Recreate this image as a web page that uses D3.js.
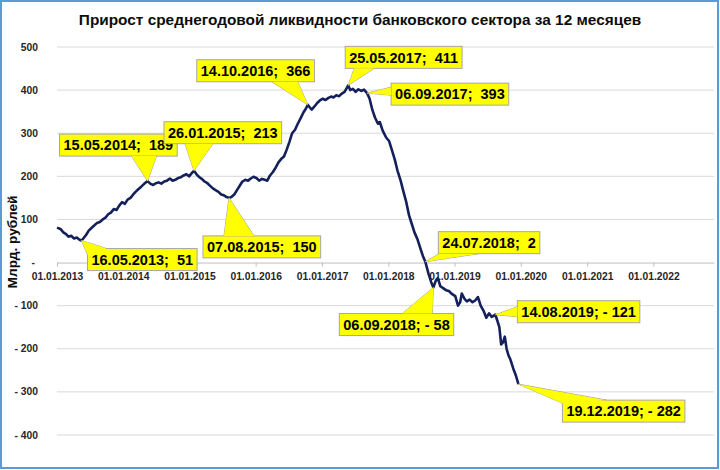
<!DOCTYPE html>
<html><head><meta charset="utf-8">
<script src="https://cdn.jsdelivr.net/npm/d3@7"></script>
<style>
html,body{margin:0;padding:0;background:#fff;}
svg{display:block;font-family:"Liberation Sans",Arial,sans-serif;}
</style></head>
<body>
<svg id="chart" width="720" height="470"></svg>
<script>
// ---------- DATA ----------
const title = "Прирост среднегодовой ликвидности банковского сектора за 12 месяцев";
const yAxisTitle = "Млрд. рублей";
const xTickDates = ["2013-01-01","2014-01-01","2015-01-01","2016-01-01","2017-01-01","2018-01-01","2019-01-01","2020-01-01","2021-01-01","2022-01-01"];
const yTickValues = [500,400,300,200,100,0,-100,-200,-300,-400];

const seriesDates = [
"2013-01-01","2013-01-20","2013-02-05","2013-02-20","2013-03-05","2013-03-20","2013-04-05","2013-04-20","2013-05-05","2013-05-16",
"2013-05-28","2013-06-10","2013-06-25","2013-07-10","2013-07-25","2013-08-10","2013-08-25","2013-09-10","2013-09-25","2013-10-10",
"2013-10-25","2013-11-10","2013-11-25","2013-12-10","2013-12-25","2014-01-10","2014-01-25","2014-02-10","2014-02-25","2014-03-10",
"2014-03-25","2014-04-10","2014-04-25","2014-05-15","2014-05-30","2014-06-15","2014-06-30","2014-07-15","2014-07-30","2014-08-15",
"2014-08-30","2014-09-15","2014-09-30","2014-10-15","2014-10-30","2014-11-15","2014-11-30","2014-12-15","2014-12-30","2015-01-15",
"2015-01-26","2015-02-10","2015-02-25","2015-03-10","2015-03-25","2015-04-10","2015-04-25","2015-05-10","2015-05-25","2015-06-10",
"2015-06-25","2015-07-10","2015-07-25","2015-08-07","2015-08-20","2015-09-05","2015-09-20","2015-10-05","2015-10-20","2015-11-05",
"2015-11-20","2015-12-05","2015-12-20","2016-01-05","2016-01-20","2016-02-05","2016-02-20","2016-03-05","2016-03-20","2016-04-05",
"2016-04-20","2016-05-05","2016-05-20","2016-06-05","2016-06-20","2016-07-05","2016-07-20","2016-08-05","2016-08-20","2016-09-05",
"2016-09-20","2016-10-05","2016-10-14","2016-10-25","2016-11-05","2016-11-20","2016-12-05","2016-12-20","2017-01-05","2017-01-20",
"2017-02-05","2017-02-20","2017-03-05","2017-03-20","2017-04-05","2017-04-20","2017-05-05","2017-05-25","2017-06-05","2017-06-20",
"2017-07-05","2017-07-20","2017-08-05","2017-08-20","2017-09-06","2017-09-20","2017-10-05","2017-10-20","2017-11-05","2017-11-15",
"2017-12-01","2017-12-20","2018-01-05","2018-01-20","2018-02-05","2018-02-20","2018-03-10","2018-03-25","2018-04-10","2018-04-25",
"2018-05-10","2018-05-25","2018-06-10","2018-06-25","2018-07-10","2018-07-24","2018-08-10","2018-08-25","2018-09-06","2018-09-20",
"2018-10-01","2018-10-15","2018-11-01","2018-11-15","2018-12-01","2018-12-15","2019-01-05","2019-01-20","2019-02-01","2019-02-10",
"2019-02-25","2019-03-10","2019-03-25","2019-04-10","2019-04-25","2019-05-10","2019-05-25","2019-06-10","2019-06-25","2019-07-10",
"2019-07-25","2019-08-14","2019-08-25","2019-09-05","2019-09-15","2019-09-25","2019-10-05","2019-10-15","2019-10-25","2019-11-05",
"2019-11-20","2019-12-05","2019-12-19"];
const seriesValues = [
81,78,70,66,60,62,56,58,53,51,
57,64,74,80,86,92,94,100,104,112,
116,124,122,132,140,136,146,150,158,164,
170,176,182,189,183,180,184,186,183,188,
190,195,190,192,196,198,202,205,200,208,
213,204,198,194,188,184,178,172,168,164,
158,156,152,150,152,158,168,178,188,192,
190,195,199,196,190,194,192,190,202,210,
220,232,240,246,262,280,300,308,322,335,
348,358,366,360,355,362,370,376,380,377,
382,385,383,388,386,392,396,411,400,403,
396,402,398,401,393,380,354,336,322,326,
306,290,282,262,240,214,190,165,140,110,
90,70,55,35,16,2,-25,-45,-58,-42,
-36,-55,-60,-64,-66,-72,-78,-100,-92,-72,
-84,-90,-86,-92,-88,-80,-100,-112,-128,-118,
-126,-121,-135,-150,-190,-185,-172,-200,-215,-225,
-245,-262,-282];

const calloutDates  = ["2013-05-16","2014-05-15","2015-01-26","2015-08-07","2016-10-14","2017-05-25","2017-09-06","2018-07-24","2018-09-06","2019-08-14","2019-12-19"];
const calloutValues = [51,189,213,150,366,411,393,2,-58,-121,-282];
const calloutLabels = ["16.05.2013;  51","15.05.2014;  189","26.01.2015;  213","07.08.2015;  150","14.10.2016;  366","25.05.2017;  411","06.09.2017;  393","24.07.2018;  2","06.09.2018; - 58","14.08.2019; - 121","19.12.2019; - 282"];

// ---------- LAYOUT (pixel offsets of callout boxes relative to their points) ----------
const calloutLayout = [
  {dx:6,   dy:8,   base:[[19,0],[0,6]]},
  {dx:-88, dy:-47, base:[[72,22],[97,22]]},
  {dx:-30, dy:-49, base:[[21,22],[49,22]]},
  {dx:-26, dy:38,  base:[[21,0],[51,0]]},
  {dx:-111,dy:-45, base:[[75,22],[101,22]]},
  {dx:-3,  dy:-39, base:[[9,22],[29,22]]},
  {dx:24,  dy:-10, base:[[0,4],[0,12]]},
  {dx:13,  dy:-30, base:[[1,22],[40,22]]},
  {dx:-94, dy:26,  base:[[63,0],[93,0]]},
  {dx:22,  dy:-14, base:[[0,6],[0,16]]},
  {dx:44,  dy:16,  base:[[0,3],[44,0]]}
];

const parse = d3.timeParse("%Y-%m-%d");
const fmtTick = d3.timeFormat("%d.%m.%Y");
const svg = d3.select("#chart");

const x = d3.scaleTime().domain([parse("2013-01-01"), parse("2022-12-01")]).range([57, 714]);
const y = d3.scaleLinear().domain([-400, 500]).range([435, 47]);

// border
svg.append("rect").attr("x",1).attr("y",1).attr("width",717).attr("height",467)
  .attr("fill","#fff").attr("stroke","#5b9bd5").attr("stroke-width",2);

// gridlines
svg.append("g").selectAll("line").data(yTickValues.filter(v=>v!==0)).join("line")
  .attr("x1",57).attr("x2",714).attr("y1",d=>y(d)).attr("y2",d=>y(d))
  .attr("stroke","#d9d9d9").attr("stroke-width",1);

// y tick labels
const yFmt = v => v===0 ? "-" : (v<0 ? "- "+Math.abs(v) : String(v));
svg.append("g").selectAll("text").data(yTickValues).join("text")
  .attr("x", d=> d===0 ? 35 : 38).attr("y", d=>y(d)).attr("dy","0.35em")
  .attr("text-anchor","end").attr("font-size",10.3).attr("font-weight","bold")
  .attr("fill","#262626").style("white-space","pre").text(yFmt);

// x axis at zero
const xAxis = d3.axisBottom(x).tickValues(xTickDates.map(parse)).tickFormat(fmtTick).tickSize(4).tickSizeOuter(0);
const gx = svg.append("g").attr("transform",`translate(0,${y(0)})`).call(xAxis);
gx.select(".domain").attr("stroke","#bfbfbf");
gx.selectAll(".tick line").attr("stroke","#bfbfbf");
gx.selectAll(".tick text").attr("font-size",10.3).attr("font-weight","bold")
  .attr("fill","#262626").attr("font-family","Liberation Sans, Arial, sans-serif").attr("dy","0.71em").attr("y",10);

// series line
const pts = seriesDates.map((d,i)=>({date:parse(d), v:seriesValues[i]}));
svg.append("path").datum(pts)
  .attr("fill","none").attr("stroke","#14205c").attr("stroke-width",2.6).attr("stroke-linejoin","round")
  .attr("d", d3.line().x(d=>x(d.date)).y(d=>y(d.v)));

// callouts
const cg = svg.append("g");
calloutLabels.forEach((lab,i)=>{
  const px = x(parse(calloutDates[i])), py = y(calloutValues[i]);
  const L = calloutLayout[i];
  const g = cg.append("g");
  const t = g.append("text").attr("font-size",14.5).attr("font-weight","bold").attr("fill","#000")
    .style("white-space","pre").text(lab);
  const w = t.node().getComputedTextLength() + 8, h = 22;
  const bx = px + L.dx, by = py + L.dy;
  const poly = [[px,py],[bx+L.base[0][0], by+L.base[0][1]],[bx+L.base[1][0], by+L.base[1][1]]];
  g.insert("polygon","text").attr("points",poly.map(p=>p.join(",")).join(" "))
    .attr("fill","#ffff00").attr("stroke","#a6a6a6").attr("stroke-width",1);
  g.insert("rect","text").attr("x",bx).attr("y",by).attr("width",w).attr("height",h)
    .attr("fill","#ffff00").attr("stroke","#a6a6a6").attr("stroke-width",1);
  g.insert("polygon","text").attr("points",poly.map(p=>p.join(",")).join(" "))
    .attr("fill","#ffff00").attr("stroke","none");
  t.attr("x",bx+w/2).attr("y",by+h/2).attr("dy","0.36em").attr("text-anchor","middle");
});

// title
const tt = svg.append("text").attr("x",360).attr("y",25).attr("text-anchor","middle")
  .attr("font-weight","bold").attr("font-size",15).attr("fill","#0d0d0d").text(title);
const tw = tt.node().getComputedTextLength();
tt.attr("font-size", 15*563/tw);

// y axis title
const yt = svg.append("text").attr("transform","translate(17,242) rotate(-90)").attr("text-anchor","middle")
  .attr("font-weight","bold").attr("font-size",13).attr("fill","#0d0d0d").text(yAxisTitle);
const yw = yt.node().getComputedTextLength();
yt.attr("font-size", 13*93/yw);
</script>
</body></html>
